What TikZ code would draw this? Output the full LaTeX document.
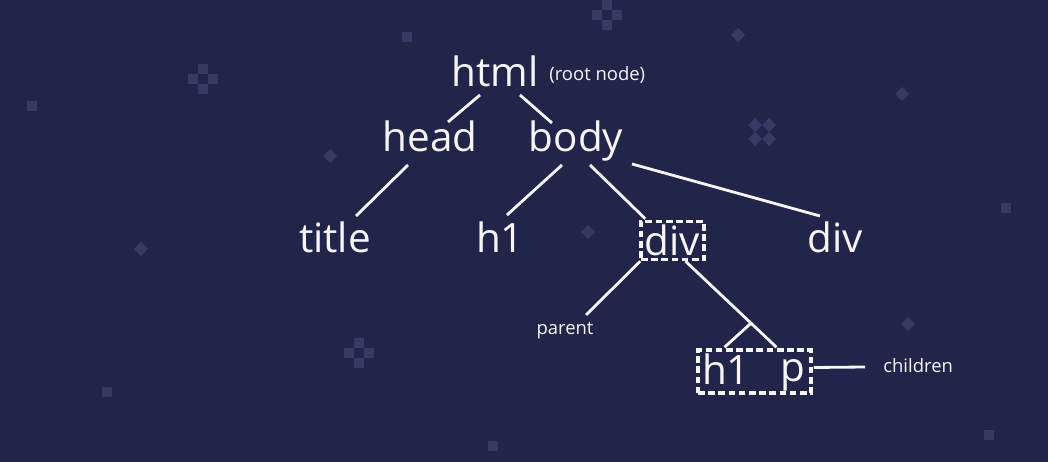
\documentclass[tikz,border=0pt]{standalone}
\usepackage{fontspec}
\setmainfont{Open Sans}
\usetikzlibrary{calc}
\definecolor{navy}{RGB}{33,37,74}
\definecolor{speck}{RGB}{54,59,99}
\definecolor{ink}{RGB}{246,246,250}

\begin{document}
\begin{tikzpicture}[x=0.02cm, y=-0.02cm,
  tag/.style={text=ink, inner sep=0pt, font=\fontsize{23}{27}\selectfont},
  note/.style={text=ink, inner sep=0pt, font=\fontsize{10.5}{12}\selectfont},
  link/.style={draw=ink, line width=1.6pt},
  dashbox/.style={draw=ink, line width=2pt, dash pattern=on 3.8pt off 2pt}]
\fill[navy] (0,0) rectangle (1048,462);
% background specks
\foreach \x/\y in {407/37, 32/106, 107/392, 493/446, 1006/208, 989/435}
  \fill[speck] (\x-5,\y-5) rectangle ++(10,10);
\foreach \x/\y in {203/79, 359/353, 607/15}
  \foreach \dx/\dy in {0/-10, -10/0, 10/0, 0/10}
    \fill[speck] ({\x+\dx-5},{\y+\dy-5}) rectangle ++(10,10);
\foreach \x/\y in {330/156, 141/249, 738/35, 902/94, 588/232, 908/324, 755/125, 769/125, 755/139, 769/139}
  \fill[speck] (\x,\y-7) -- (\x+7,\y) -- (\x,\y+7) -- (\x-7,\y) -- cycle;

% tree
\node[tag, anchor=base] (html) at (495,87) {html};
\node[note, anchor=base west] (root) at (549,81) {(root node)};
\node[tag, anchor=base] (head) at (430,152) {head};
\node[tag, anchor=base] (body) at (576,152) {body};
\node[tag, anchor=base] (title) at (335,253) {title};
\node[tag, anchor=base] (h1) at (500,253) {h1};
\node[tag, dashbox, minimum width=1.26cm, minimum height=0.76cm] (div) at (672.5,240.5) {div};
\node[tag, anchor=base] (divb) at (835,253) {div};
\node[note, anchor=base] (parent) at (565,335) {parent};
\node[dashbox, minimum width=2.26cm, minimum height=0.86cm] (kids) at (754.5,371.5) {};
\node[tag, anchor=base] (h1b) at (726,385) {h1};
\node[tag, anchor=base] (p) at (793,382) {p};
\node[note, anchor=base west] (children) at (883,373) {children};

\draw[link] ($(html.base)+(-15,8)$) -- ($(head.base)+(18,-30)$);
\draw[link] ($(html.base)+(25,8)$) -- ($(body.base)+(-24,-29)$);
\draw[link] ($(head.base)+(-22,13)$) -- ($(title.base)+(21,-37)$);
\draw[link] ($(body.base)+(-14,13)$) -- ($(h1.base)+(7,-38)$);
\draw[link] ($(body.base)+(14,13)$) -- ($(div.north west)+(6,-1)$);
\draw[link] ($(body.base)+(56,12)$) -- ($(divb.base)+(-15,-37)$);
\draw[link] ($(div.south west)+(1,0)$) -- ($(parent.base)+(21,-20)$);
\draw[link] ($(div.south)+(13,0)$) -- coordinate[pos=0.72] (fork) ($(kids.north)+(22,-1)$);
\draw[link] (fork) -- ($(kids.north)+(-30,-1)$);
\draw[link] ($(kids.east)+(1,-4)$) -- ($(children.base west)+(-18,-6)$);
\end{tikzpicture}
\end{document}
